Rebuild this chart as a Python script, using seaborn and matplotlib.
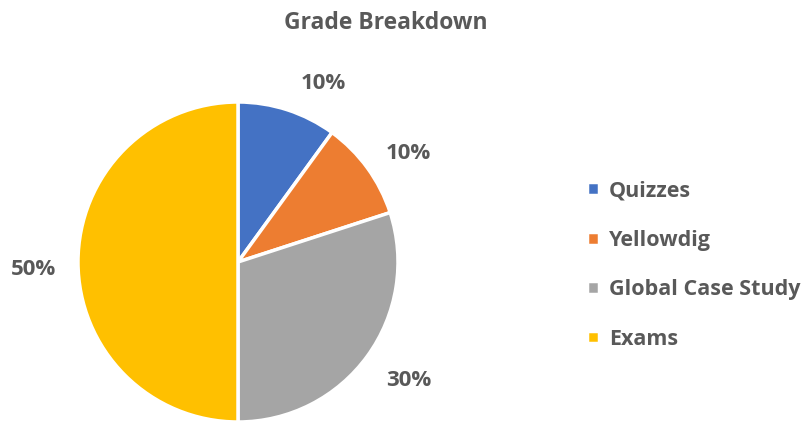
import matplotlib
matplotlib.use("Agg")
import matplotlib.pyplot as plt
import seaborn as sns

categories = ["Quizzes", "Yellowdig", "Global Case Study", "Exams"]
shares = [10, 10, 30, 50]
colors = ["#4472C4", "#ED7D31", "#A5A5A5", "#FFC000"]
title = "Grade Breakdown"

# small nudges so the percent labels sit where Excel put them
label_nudge = [(0.144, -0.075), (0.056, -0.056), (0.056, -0.006), (-0.031, -0.044)]

sns.set_theme(style="white")
plt.rcParams["font.family"] = ["Open Sans", "DejaVu Sans"]
TEXT = "#595959"

fig = plt.figure(figsize=(8.11, 4.22), dpi=100)
W, H = 811, 422
cx, cy, r = 238, 262, 160
ax = fig.add_axes([(cx - r) / W, (H - cy - r) / H, 2 * r / W, 2 * r / H])

wedges, _, autotexts = ax.pie(
    shares, colors=colors, startangle=90, counterclock=False,
    autopct=lambda p: f"{p:.0f}%", pctdistance=1.25, labels=None,
    wedgeprops=dict(edgecolor="white", linewidth=2.5),
    textprops=dict(fontsize=16, fontweight="bold", color=TEXT),
)
for t, (dx, dy) in zip(autotexts, label_nudge):
    x, y = t.get_position()
    t.set_position((x + dx, y + dy))
ax.set_xlim(-1, 1)
ax.set_ylim(-1, 1)
ax.set_aspect("equal")
ax.axis("off")

fig.text(386 / W, 1 - 23 / H, title, ha="center", va="center",
         fontsize=16.5, fontweight="bold", color=TEXT)

leg = fig.legend(wedges, categories, loc="center left",
                 bbox_to_anchor=(568 / W, 1 - 265 / H), frameon=False,
                 handlelength=0.55, handleheight=0.55, handletextpad=0.45,
                 labelspacing=1.32, prop=dict(size=15.5, weight="bold"))
for t in leg.get_texts():
    t.set_color(TEXT)

fig.savefig("out.png", dpi=100)
